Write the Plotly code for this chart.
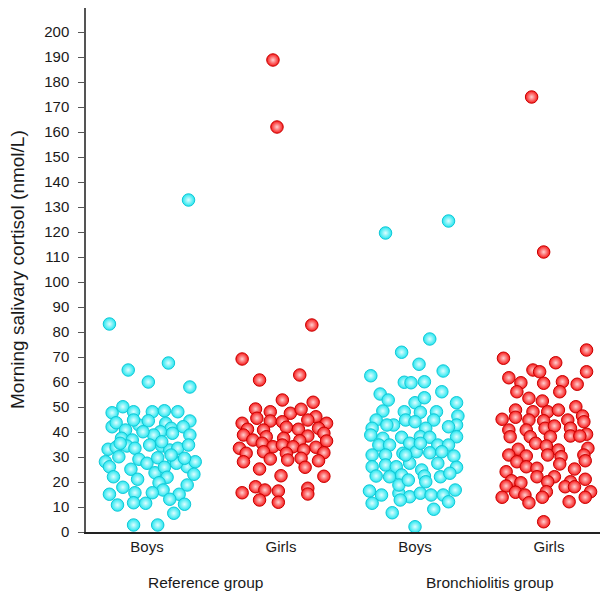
import plotly.graph_objects as go

categories = ["Boys", "Girls", "Boys", "Girls"]
group_labels = ["Reference group", "Bronchiolitis group"]
y_title = "Morning salivary cortisol (nmol/L)"
y_ticks = list(range(0, 201, 10))

# Reference group, boys (nmol/L) and horizontal jitter (category units)
ref_boys = [132.8, 83.2, 64.8, 67.6, 60.0, 58.0, 47.7, 50.1, 48.1, 48.1, 48.5, 48.1, 44.4, 42.1, 43.7,
            40.8, 42.8, 44.5, 43.5, 41.5, 40.1, 42.1, 38.8, 37.5, 36.8, 38.8, 40.1, 33.1, 33.9, 34.4,
            33.5, 34.8, 34.4, 32.8, 33.5, 34.8, 28.1, 30.1, 29.1, 27.5, 29.7, 28.5, 26.1, 28.1, 26.1,
            25.1, 23.7, 25.9, 27.5, 23.1, 22.1, 21.1, 21.9, 19.7, 17.9, 18.8, 16.8, 15.7, 15.7, 15.1,
            15.1, 13.1, 10.8, 11.7, 11.5, 11.1, 7.5, 2.8, 2.8,
            44.8, 39.5, 36.1, 30.8, 29.5, 35.5]
ref_boys_jit = [0.31, -0.28, -0.14, 0.16, 0.01, 0.32, -0.26, -0.18, -0.10, 0.04, 0.13, 0.23, 0.32, -0.26, -0.23,
                -0.16, -0.06, 0.01, 0.14, 0.18, 0.10, 0.27, 0.32, -0.19, -0.11, 0.05, -0.03, -0.29, -0.23, -0.15,
                -0.09, 0.02, 0.11, 0.17, 0.23, 0.31, -0.31, -0.21, -0.06, 0.00, 0.08, 0.20, 0.30, 0.36, -0.28,
                -0.12, 0.06, 0.13, 0.22, 0.35, -0.25, -0.07, 0.15, 0.09, -0.18, 0.30, 0.12, -0.09, 0.04, -0.28,
                0.24, 0.17, -0.22, -0.10, -0.01, 0.28, 0.20, -0.10, 0.08,
                -0.10, 0.19, 0.11, 0.18, 0.28, -0.20]

# Reference group, girls
ref_girls = [188.8, 162.0, 82.8, 69.2, 60.8, 62.8, 52.8, 51.9, 49.2, 48.1, 47.5, 49.1, 46.1, 45.5, 43.5,
             44.4, 44.1, 44.8, 43.5, 41.1, 40.8, 41.9, 41.1, 41.5, 38.8, 38.1, 37.5, 38.4, 39.5, 36.8,
             36.5, 36.4, 33.5, 35.5, 34.1, 34.8, 34.1, 33.9, 31.5, 32.1, 31.5, 32.8, 31.7, 28.1, 29.2,
             28.8, 29.5, 28.5, 25.9, 25.2, 22.5, 22.3, 15.7, 18.1, 16.8, 16.4, 12.8, 11.9, 17.5, 15.2]
ref_girls_jit = [-0.06, -0.03, 0.23, -0.29, -0.16, 0.14, 0.01, 0.24, -0.19, -0.08, 0.07, 0.15, 0.26, -0.18, -0.29,
                 -0.08, 0.01, 0.20, 0.34, -0.25, -0.13, 0.04, 0.13, 0.28, -0.28, -0.11, 0.02, 0.20, 0.32, -0.21,
                 0.14, 0.34, -0.31, -0.14, -0.06, 0.01, 0.09, 0.26, -0.26, -0.13, 0.04, 0.17, 0.32, -0.28, -0.08,
                 0.05, 0.15, 0.28, 0.18, -0.16, 0.00, 0.32, -0.29, -0.19, -0.12, -0.02, -0.16, -0.02, 0.20, 0.20]

# Bronchiolitis group, boys
bro_boys = [119.6, 124.4, 77.2, 71.9, 67.1, 64.4, 62.5, 59.9, 59.7, 60.1, 56.1, 55.2, 52.8, 51.7, 53.7,
            51.7, 48.4, 48.1, 47.9, 48.1, 46.4, 44.8, 42.8, 44.8, 44.1, 44.8, 42.8, 41.5, 42.8, 41.5,
            42.1, 38.8, 37.5, 37.9, 38.1, 37.9, 38.1, 34.8, 34.8, 35.5, 34.8, 34.8, 30.8, 30.8, 31.5,
            32.1, 31.7, 32.1, 30.4, 26.1, 26.8, 26.1, 27.5, 24.8, 27.5, 25.9, 22.4, 22.1, 22.8, 22.4,
            22.1, 23.5, 16.4, 14.8, 15.5, 14.1, 15.5, 14.8, 14.8, 16.8, 11.5, 12.8, 12.1, 7.7, 9.1, 2.1,
            35.5, 30.8, 18.8, 20.8, 20.1]
bro_boys_jit = [-0.22, 0.25, 0.11, -0.10, 0.03, 0.21, -0.33, -0.08, -0.03, 0.07, 0.20, -0.26, -0.20, 0.00, 0.07,
                0.31, -0.24, -0.08, 0.04, 0.16, 0.32, -0.29, -0.16, -0.07, 0.00, 0.14, 0.31, -0.32, -0.21, 0.08,
                0.25, -0.33, -0.24, -0.10, 0.04, 0.11, 0.31, -0.27, -0.19, -0.04, 0.17, 0.25, -0.32, -0.22, -0.09,
                0.01, 0.11, 0.20, 0.29, -0.32, -0.22, -0.14, -0.04, 0.05, 0.17, 0.31, -0.29, -0.19, -0.10, 0.07,
                0.19, 0.26, -0.34, -0.25, -0.12, -0.04, 0.04, 0.12, 0.21, 0.30, -0.32, -0.11, 0.25, -0.17, 0.14, 0.00,
                0.04, -0.07, -0.12, -0.05, 0.08]

# Bronchiolitis group, girls
bro_girls = [174.0, 112.0, 72.8, 69.5, 67.7, 64.8, 64.1, 64.1, 61.7, 59.7, 59.5, 60.1, 59.1, 56.1, 56.1,
             53.5, 52.4, 48.8, 48.1, 48.1, 48.8, 50.1, 45.1, 45.9, 44.8, 44.5, 44.8, 46.4, 44.1, 40.8,
             40.8, 41.5, 42.4, 41.5, 39.1, 38.1, 38.1, 38.1, 38.4, 38.4, 35.5, 33.1, 34.4, 32.8, 33.5,
             30.8, 30.4, 30.8, 30.1, 30.8, 28.1, 26.1, 27.2, 28.5, 24.1, 25.5, 25.2, 20.5, 22.1, 22.1,
             18.4, 19.7, 20.1, 20.1, 21.1, 15.9, 14.8, 16.1, 18.1, 18.1, 16.1, 13.9, 11.7, 13.9, 12.1,
             13.9, 4.1]
bro_girls_jit = [-0.13, -0.04, 0.28, -0.34, 0.05, -0.12, -0.07, 0.28, -0.30, -0.21, -0.04, 0.10, 0.21, -0.24, 0.08,
                 -0.15, -0.05, -0.25, -0.12, -0.01, 0.07, 0.20, -0.35, -0.25, -0.15, -0.04, 0.14, 0.25, 0.26, -0.30,
                 -0.17, -0.03, 0.04, 0.16, 0.28, -0.29, -0.14, 0.01, 0.16, 0.23, -0.10, -0.23, -0.02, 0.07, 0.29,
                 -0.30, -0.17, -0.01, 0.09, 0.26, -0.24, -0.17, 0.08, 0.27, -0.32, -0.09, 0.19, -0.28, -0.09, 0.04,
                 -0.32, -0.21, -0.01, 0.16, 0.27, -0.25, -0.18, -0.02, 0.12, 0.19, 0.31, -0.35, -0.15, -0.05, 0.15,
                 0.27, -0.04]

series = [
    (ref_boys, ref_boys_jit, 0, "cyan"),
    (ref_girls, ref_girls_jit, 1, "red"),
    (bro_boys, bro_boys_jit, 2, "cyan"),
    (bro_girls, bro_girls_jit, 3, "red"),
]

styles = {
    "cyan": dict(color="#22e6f0", gradient=dict(type="radial", color="#e0feff"),
                 line=dict(color="#10c8d6", width=1)),
    "red": dict(color="#f81818", gradient=dict(type="radial", color="#ffd0d0"),
                line=dict(color="#c80000", width=1)),
}

fig = go.Figure()
for vals, jit, pos, col in series:
    fig.add_trace(go.Scatter(
        x=[pos + j for j in jit], y=vals, mode="markers",
        marker=dict(size=12.5, **styles[col]),
        showlegend=False, hoverinfo="y",
    ))

font_family = "Liberation Sans, Arial, sans-serif"

fig.update_layout(
    width=600, height=584,
    margin=dict(l=78, r=0, t=0, b=60),
    paper_bgcolor="white", plot_bgcolor="white",
    font=dict(family=font_family, size=15, color="#1a1a1a"),
    xaxis=dict(
        range=[-0.455, 3.44], tickvals=[0, 1, 2, 3], ticktext=categories,
        showgrid=False, zeroline=False, showline=True, linecolor="#222", linewidth=1.5,
        ticks="", ticklen=0, tickfont=dict(size=15), fixedrange=True,
    ),
    yaxis=dict(
        range=[0, 209.6], tickvals=y_ticks, ticktext=[str(v) for v in y_ticks],
        showgrid=False, zeroline=False, showline=True, linecolor="#555", linewidth=1.5,
        ticks="outside", ticklen=6, tickcolor="#555", tickwidth=1, tickfont=dict(size=15),
        ticklabelstandoff=6,
    ),
    annotations=[
        dict(x=0.44, y=0, xref="x", yref="paper", yanchor="middle", yshift=-50,
             text=group_labels[0], showarrow=False, font=dict(size=15.5)),
        dict(x=2.56, y=0, xref="x", yref="paper", yanchor="middle", yshift=-50,
             text=group_labels[1], showarrow=False, font=dict(size=15.5)),
        dict(x=0, y=0.5, xref="paper", yref="paper", xanchor="center", yanchor="middle",
             xshift=-69, text=y_title, textangle=-90, showarrow=False, font=dict(size=19)),
    ],
)

fig.write_html("out.html")
